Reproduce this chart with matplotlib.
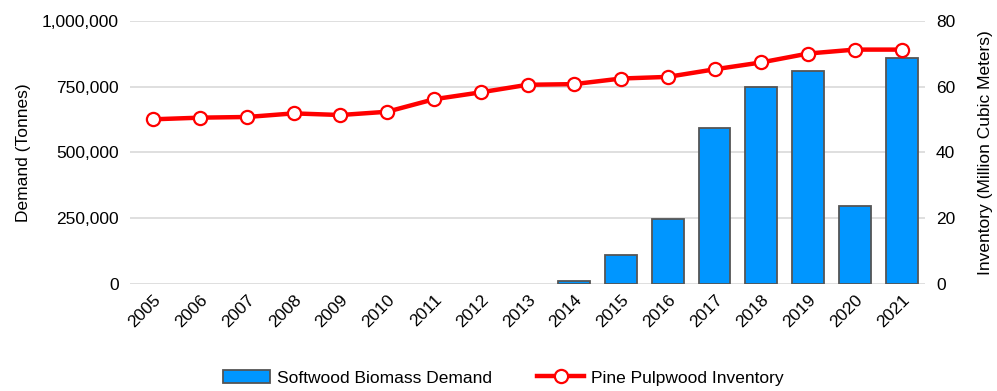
import matplotlib
matplotlib.use("Agg")
import matplotlib.pyplot as plt
from matplotlib.ticker import FuncFormatter
import numpy as np

years = ["2005", "2006", "2007", "2008", "2009", "2010", "2011", "2012", "2013",
         "2014", "2015", "2016", "2017", "2018", "2019", "2020", "2021"]
demand = [0, 0, 0, 0, 0, 0, 0, 0, 0,
          13000, 110000, 248000, 594000, 748000, 811000, 298000, 861000]
inventory = [50.1, 50.6, 50.8, 51.9, 51.4, 52.4, 56.2, 58.3, 60.6,
             60.8, 62.5, 63.0, 65.3, 67.4, 70.1, 71.3, 71.3]

plt.rcParams['font.family'] = ['Liberation Sans', 'DejaVu Sans']

fig = plt.figure(figsize=(9.97, 3.91), dpi=100)
ax = fig.add_axes([130/997, 1 - 284/391, (925-130)/997, (284-21)/391])
ax2 = ax.twinx()

x = np.arange(len(years))
bar_vals = np.array(demand, dtype=float)
bar_vals[bar_vals == 0] = np.nan  # zero years show no bar
ax.bar(x, bar_vals, width=0.68, color='#0096FF', edgecolor='#555555', linewidth=1.3,
       label='Softwood Biomass Demand', zorder=2)
ax2.plot(x, inventory, color='#FF0000', linewidth=3.2, marker='o', markersize=9.5,
         markerfacecolor='white', markeredgecolor='#FF0000', markeredgewidth=1.6,
         label='Pine Pulpwood Inventory', zorder=3)

ax.set_xlim(-0.5, len(years) - 0.5)
ax.set_ylim(0, 1000000)
ax.set_yticks([0, 250000, 500000, 750000, 1000000])
ax.yaxis.set_major_formatter(FuncFormatter(lambda v, p: f"{int(v):,}"))
ax2.set_ylim(0, 80)
ax2.set_yticks([0, 20, 40, 60, 80])

ax.grid(axis='y', color='#d9d9d9', linewidth=1.2, zorder=0)
ax.set_axisbelow(True)
for a in (ax, ax2):
    for s in a.spines.values():
        s.set_visible(False)
    a.tick_params(length=0, labelsize=12.5, colors='black')

ax.set_xticks(x)
ax.set_xticklabels(years, rotation=45, ha='right', rotation_mode='anchor')
ax.tick_params(axis='x', pad=6)
ax.tick_params(axis='y', pad=8)
ax2.tick_params(axis='y', pad=8)

ax.set_ylabel("Demand (Tonnes)", fontsize=12.5, labelpad=8)
ax2.set_ylabel("Inventory (Million Cubic Meters)", fontsize=12.5, labelpad=16)

h1, l1 = ax.get_legend_handles_labels()
h2, l2 = ax2.get_legend_handles_labels()
fig.legend(h1 + h2, l1 + l2, loc='center', bbox_to_anchor=(0.505, 1 - 378/391),
           ncol=2, frameon=False, fontsize=12.5, handlelength=2.7, columnspacing=2.6,
           handletextpad=0.4)

fig.savefig("out.png", dpi=100)
